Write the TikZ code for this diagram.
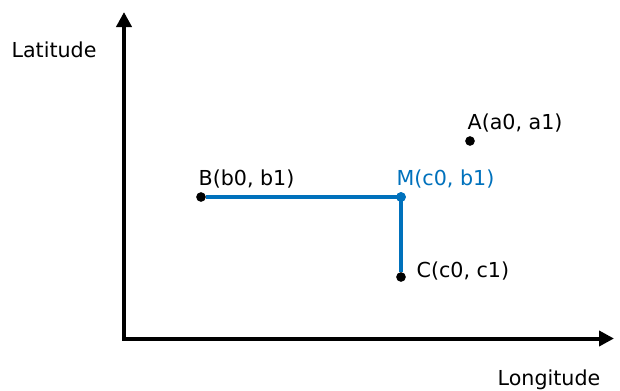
\documentclass[tikz,border=0pt]{standalone}
\usepackage{fontspec}
\setmainfont{DejaVu Sans}
\usetikzlibrary{arrows.meta,positioning}
\definecolor{pathblue}{RGB}{0,113,188}

\begin{document}
\begin{tikzpicture}[x=0.03cm, y=-0.03cm,
    axis/.style={line width=0.12cm, line join=miter, {Triangle[length=0.45cm, width=0.45cm]}-{Triangle[length=0.45cm, width=0.45cm]}},
    route/.style={draw=pathblue, line width=0.105cm, line join=miter},
    dot/.style={circle, fill=black, inner sep=0pt, minimum size=0.29cm},
    bluedot/.style={dot, fill=pathblue},
    lbl/.style={font=\fontsize{17.6}{21}\selectfont, inner sep=0pt}]

    \useasboundingbox (0,0) rectangle (620,390);

    % axes
    \coordinate (ytop) at (124,12);
    \coordinate (origin) at (124,338.5);
    \coordinate (xend) at (614,338.5);
    \draw[axis] (ytop) -- (origin) -- (xend);

    \node[lbl] (lat) at (54,50) {Latitude};
    \node[lbl] (lon) at (549,380) {Longitude};

    % points
    \node[dot] (a) at (470,141) {};
    \node[dot] (b) at (201,197) {};
    \node[dot] (c) at (401,277) {};
    \node[bluedot] (m) at (401,197) {};

    \draw[route] (b) -- (m.center) -- (c);
    \node[bluedot] at (m) {};

    \node[lbl, above right=0.16cm and -0.185cm of a] (alabel) {A(a0, a1)};
    \node[lbl, above right=0.16cm and -0.185cm of b] (blabel) {B(b0, b1)};
    \node[lbl, above right=0.16cm and -0.245cm of m, text=pathblue] (mlabel) {M(c0, b1)};
    \node[lbl, right=0.31cm of c, yshift=0.18cm] (clabel) {C(c0, c1)};

\end{tikzpicture}
\end{document}
